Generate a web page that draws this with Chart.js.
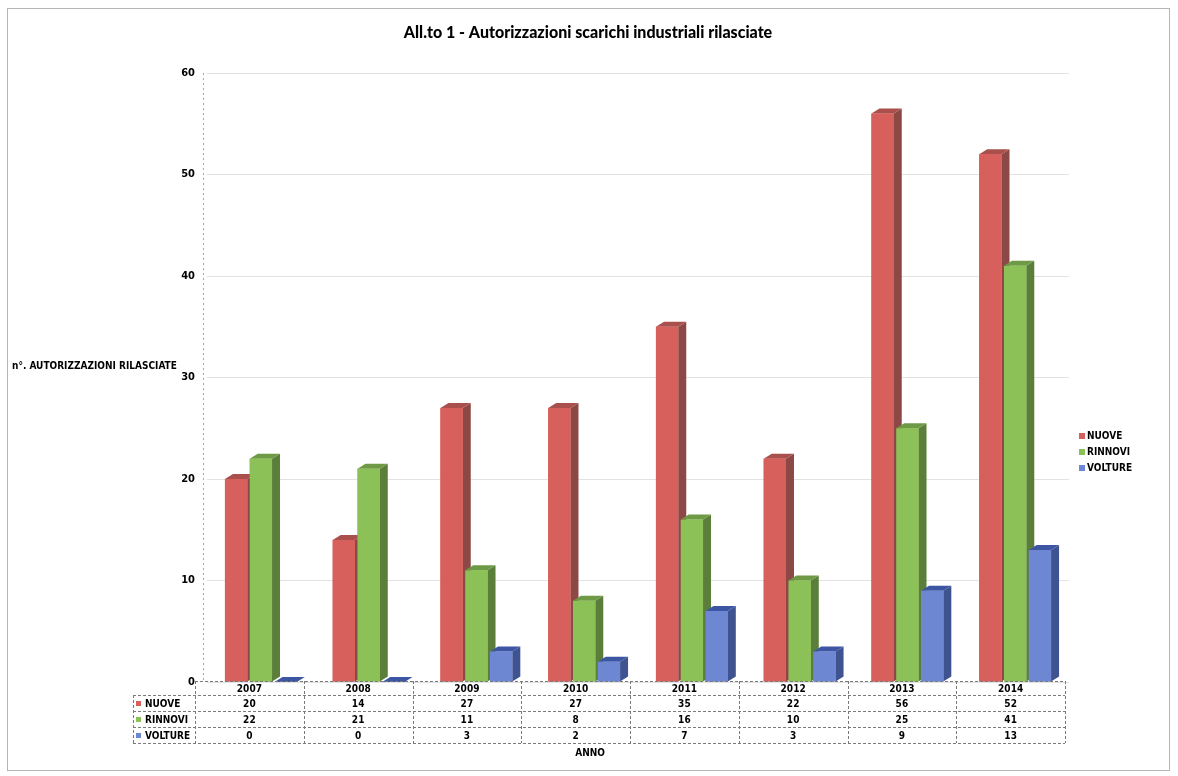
<!DOCTYPE html>
<html>
<head>
<meta charset="utf-8">
<title>Autorizzazioni scarichi industriali</title>
<script src="https://cdn.jsdelivr.net/npm/chart.js@4.4.1/dist/chart.umd.min.js"></script>
<style>
  body { margin: 0; background: #fff; }
  canvas { display: block; }
</style>
</head>
<body>
<canvas id="grafico" width="1178" height="776"></canvas>
<script>
// anni e autorizzazioni rilasciate per tipo
const anni = ['2007', '2008', '2009', '2010', '2011', '2012', '2013', '2014'];
const nuove = [20, 14, 27, 27, 35, 22, 56, 52];
const rinnovi = [22, 21, 11, 8, 16, 10, 25, 41];
const volture = [0, 0, 3, 2, 7, 3, 9, 13];
const serie = ['NUOVE', 'RINNOVI', 'VOLTURE'];
const yTicks = [0, 10, 20, 30, 40, 50, 60];

const titolo = 'All.to 1 - Autorizzazioni scarichi industriali rilasciate';
const titoloY = 'n°. AUTORIZZAZIONI RILASCIATE';
const titoloX = 'ANNO';

// colori: faccia frontale, lato, cima
const colori = [
  { front: '#d75f5c', side: '#8c4845', top: '#a9504d' },
  { front: '#8cc157', side: '#5b7f3a', top: '#6f9a45' },
  { front: '#6d87d2', side: '#3f5391', top: '#3d56a3' }
];
const D = 8, H = 5; // profondità finta 3D
const narrow = "'Liberation Sans Narrow', 'DejaVu Sans Condensed', sans-serif";

function poly(ctx, pts, fill) {
  ctx.beginPath();
  ctx.moveTo(pts[0][0], pts[0][1]);
  for (let k = 1; k < pts.length; k++) ctx.lineTo(pts[k][0], pts[k][1]);
  ctx.closePath();
  ctx.fillStyle = fill;
  ctx.fill();
}

// ridisegna le barre con lato e cima, categoria per categoria
const barre3d = {
  id: 'barre3d',
  afterDatasetsDraw(chart) {
    const ctx = chart.ctx;
    const metas = chart.data.datasets.map((d, i) => chart.getDatasetMeta(i));
    ctx.save();
    for (let j = 0; j < anni.length; j++) {
      metas.forEach((meta, i) => {
        const el = meta.data[j];
        const p = el.getProps(['x', 'y', 'base', 'width'], true);
        const l = p.x - p.width / 2, r = p.x + p.width / 2;
        const c = colori[i];
        poly(ctx, [[r, p.y], [r + D, p.y - H], [r + D, p.base - H], [r, p.base]], c.side);
        poly(ctx, [[l, p.y], [l + D, p.y - H], [r + D, p.y - H], [r, p.y]], c.top);
        ctx.fillStyle = c.front;
        ctx.fillRect(l, p.y, p.width, p.base - p.y);
      });
    }
    ctx.restore();
  }
};

// titolo, legenda, titolo asse e tabella dati sotto il grafico
const decorazioni = {
  id: 'decorazioni',
  afterDraw(chart) {
    const ctx = chart.ctx, area = chart.chartArea;
    ctx.save();

    // cornice pagina
    ctx.strokeStyle = '#b5b5b5';
    ctx.lineWidth = 1;
    ctx.strokeRect(7.5, 8.5, 1162, 762);

    // asse verticale tratteggiato
    ctx.strokeStyle = '#a8a8a8';
    ctx.setLineDash([2, 3]);
    ctx.beginPath();
    ctx.moveTo(area.left - 3.5, area.top);
    ctx.lineTo(area.left - 3.5, area.bottom);
    ctx.stroke();
    ctx.setLineDash([]);

    ctx.fillStyle = '#000';
    ctx.textAlign = 'center';
    ctx.textBaseline = 'middle';
    ctx.font = "900 16px Lato, 'Open Sans', sans-serif";
    ctx.fillText(titolo, 588, 33);

    ctx.font = 'bold 10px ' + narrow;
    ctx.textAlign = 'left';
    ctx.fillText(titoloY, 12, 366);

    // legenda
    serie.forEach((s, i) => {
      const y = 436 + i * 16;
      ctx.fillStyle = colori[i].front;
      ctx.fillRect(1079, y - 3, 6, 6);
      ctx.fillStyle = '#000';
      ctx.fillText(s, 1087, y);
    });

    // tabella dati
    const left = area.left - 12, right = area.right - 4, labLeft = 133;
    const colW = (right - left) / anni.length;
    const rows = [681, 695, 711, 727, 743];
    const valori = [nuove, rinnovi, volture];

    ctx.strokeStyle = '#7a7a7a';
    ctx.setLineDash([3, 2]);
    ctx.beginPath();
    ctx.moveTo(left, rows[0] + 0.5); ctx.lineTo(right, rows[0] + 0.5);
    for (let k = 1; k < rows.length; k++) {
      ctx.moveTo(labLeft, rows[k] + 0.5); ctx.lineTo(right, rows[k] + 0.5);
    }
    for (let c = 0; c <= anni.length; c++) {
      const x = Math.round(left + c * colW) + 0.5;
      ctx.moveTo(x, rows[0]); ctx.lineTo(x, rows[4]);
    }
    ctx.moveTo(labLeft + 0.5, rows[1]); ctx.lineTo(labLeft + 0.5, rows[4]);
    ctx.stroke();
    ctx.setLineDash([]);

    ctx.font = 'bold 10px ' + narrow;
    ctx.textAlign = 'center';
    ctx.fillStyle = '#000';
    anni.forEach((a, c) => {
      const cx = left + (c + 0.5) * colW;
      ctx.fillText(a, cx, (rows[0] + rows[1]) / 2 + 1);
      valori.forEach((v, r) => {
        ctx.fillText(String(v[c]), cx, (rows[r + 1] + rows[r + 2]) / 2 + 1);
      });
    });

    ctx.textAlign = 'left';
    serie.forEach((s, r) => {
      const y = (rows[r + 1] + rows[r + 2]) / 2 + 1;
      ctx.fillStyle = colori[r].front;
      ctx.fillRect(136, y - 3, 5, 5);
      ctx.fillStyle = '#000';
      ctx.fillText(s, 145, y);
    });

    ctx.textAlign = 'center';
    ctx.fillText(titoloX, 590, 753);
    ctx.restore();
  }
};

new Chart(document.getElementById('grafico'), {
  type: 'bar',
  data: {
    labels: anni,
    datasets: [
      { label: serie[0], data: nuove, backgroundColor: colori[0].front },
      { label: serie[1], data: rinnovi, backgroundColor: colori[1].front },
      { label: serie[2], data: volture, backgroundColor: colori[2].front }
    ]
  },
  options: {
    responsive: false,
    animation: false,
    events: [],
    categoryPercentage: 0.69,
    barPercentage: 0.9,
    layout: { padding: { left: 177, right: 109, top: 73, bottom: 94 } },
    plugins: {
      legend: { display: false },
      title: { display: false },
      tooltip: { enabled: false }
    },
    scales: {
      x: { display: false },
      y: {
        min: yTicks[0],
        max: yTicks[yTicks.length - 1],
        afterFit: s => { s.width = 30; },
        afterBuildTicks: s => { s.ticks = yTicks.map(v => ({ value: v })); },
        ticks: { color: '#000', font: { family: narrow, size: 11, weight: 'bold' }, padding: 12 },
        grid: { color: '#e2e2e2', drawTicks: false },
        border: { display: false }
      }
    }
  },
  plugins: [barre3d, decorazioni]
});
</script>
</body>
</html>
